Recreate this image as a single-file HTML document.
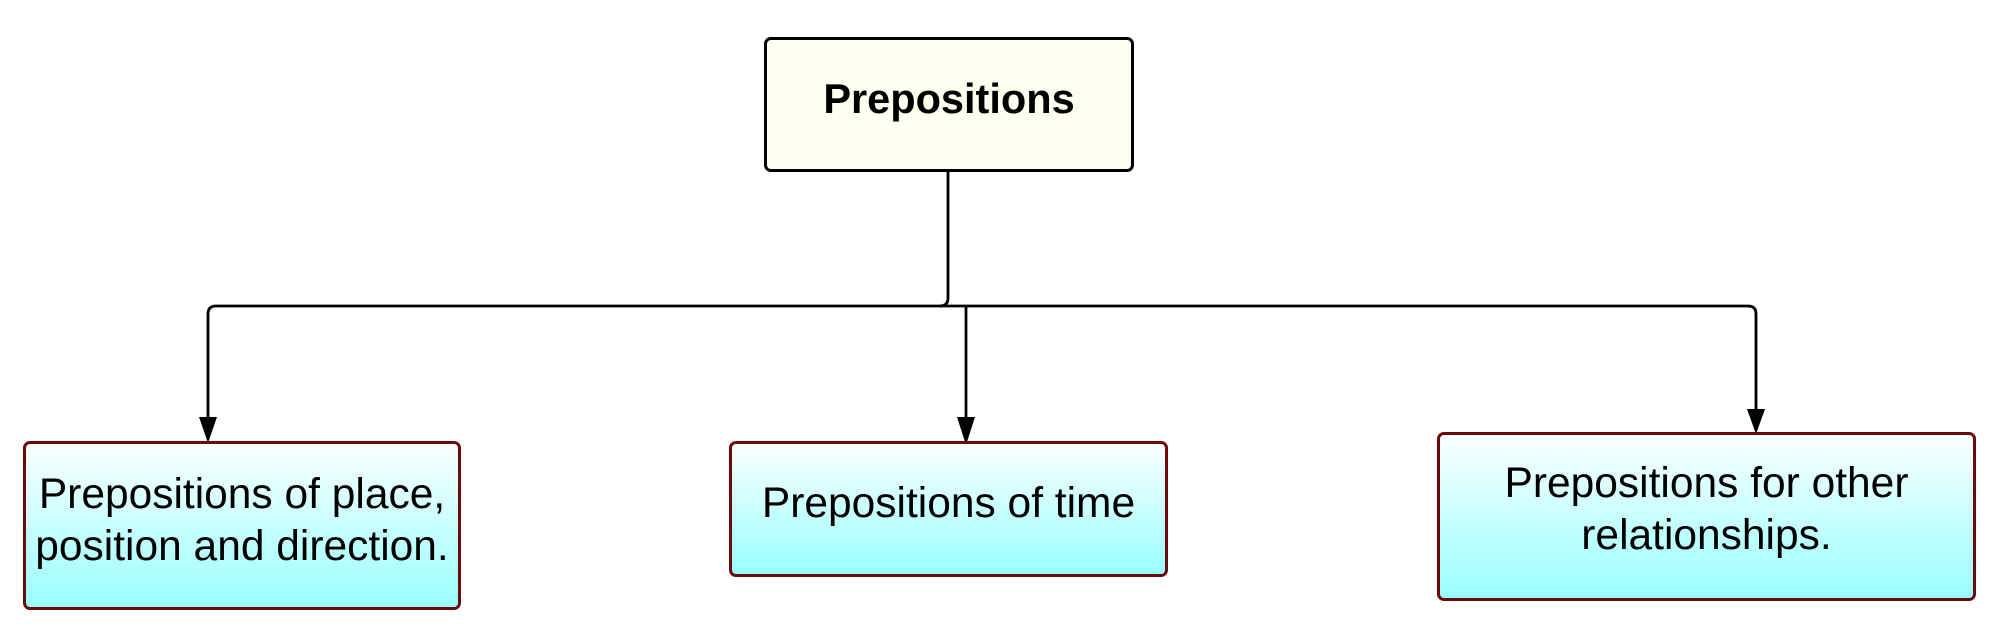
<!DOCTYPE html>
<html><head><meta charset="utf-8"><style>
body{margin:0;width:1999px;height:633px;background:#fff;overflow:hidden;font-family:"Liberation Sans",sans-serif;}
.b{position:absolute;box-sizing:border-box;display:flex;align-items:center;justify-content:center;text-align:center;border-radius:7px;}
.c{border:3px solid #6b0a0a;background:linear-gradient(#fbffff,#99ffff);font-size:42.5px;line-height:52px;color:#000;}
</style></head><body>
<svg width="1999" height="633" style="position:absolute;left:0;top:0">
<g fill="none" stroke="#000" stroke-width="2.8">
<path d="M948,171 V298 Q948,306 940,306 H216 Q208,306 208,314 V420"/>
<path d="M940,306 H1748 Q1756,306 1756,314 V413"/>
<path d="M966,306 V420"/>
</g>
<g fill="#000">
<path d="M199,417 L217,417 L208,443Z"/>
<path d="M957,417 L975,417 L966,445Z"/>
<path d="M1747,409 L1765,409 L1756,434Z"/>
</g>
</svg>
<div class="b" style="left:764px;top:37px;width:370px;height:135px;border:3px solid #000;background:#ffffef;font-weight:bold;font-size:41.5px;padding-bottom:12px">Prepositions</div>
<div class="c b" style="left:23px;top:441px;width:438px;height:169px;padding-bottom:10px">Prepositions of place,<br>position and direction.</div>
<div class="c b" style="left:729px;top:441px;width:439px;height:136px;padding-bottom:10px">Prepositions of time</div>
<div class="c b" style="left:1437px;top:432px;width:539px;height:169px;padding-bottom:14px">Prepositions for other<br>relationships.</div>
</body></html>
